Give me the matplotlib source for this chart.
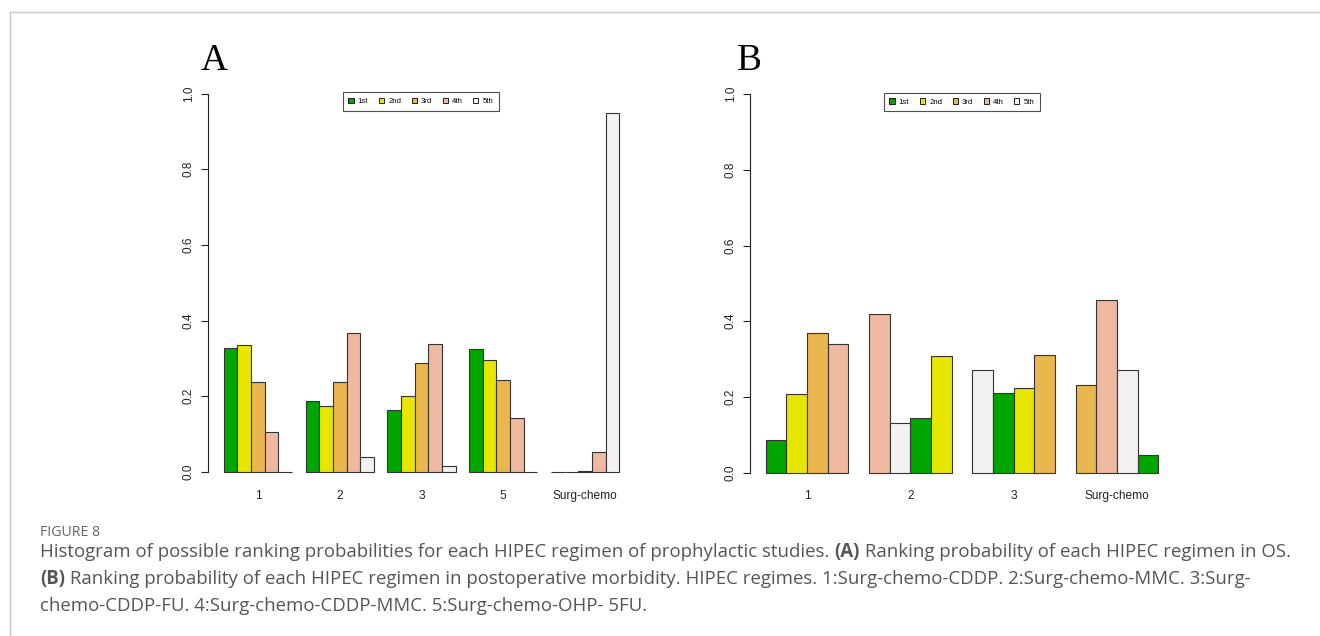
import matplotlib
matplotlib.use("Agg")
import matplotlib.pyplot as plt
from matplotlib.patches import Patch
from matplotlib.lines import Line2D

# ---------------- data ----------------
rank_labels = ["1st", "2nd", "3rd", "4th", "5th"]
rank_colors = ["#00A600", "#E6E600", "#EAB64E", "#EEB99F", "#F2F2F2"]

a_groups = ["1", "2", "3", "5", "Surg-chemo"]
a_values = [
    [0.328, 0.335, 0.237, 0.105, 0.000],
    [0.188, 0.174, 0.237, 0.366, 0.040],
    [0.164, 0.200, 0.289, 0.338, 0.016],
    [0.324, 0.295, 0.242, 0.143, 0.000],
    [0.000, 0.000, 0.001, 0.053, 0.949],
]
a_ranks = [[0, 1, 2, 3, 4]] * 5

b_groups = ["1", "2", "3", "Surg-chemo"]
b_values = [
    [0.086, 0.207, 0.369, 0.339],
    [0.419, 0.130, 0.144, 0.309],
    [0.270, 0.210, 0.223, 0.311],
    [0.231, 0.457, 0.271, 0.046],
]
b_ranks = [
    [0, 1, 2, 3],
    [3, 4, 0, 1],
    [4, 0, 1, 2],
    [2, 3, 4, 0],
]

y_ticks = [0.0, 0.2, 0.4, 0.6, 0.8, 1.0]
y_ticklabels = ["0.0", "0.2", "0.4", "0.6", "0.8", "1.0"]

caption_title = "FIGURE 8"
caption_lines = [
    [("Histogram of possible ranking probabilities for each HIPEC regimen of prophylactic studies. ", False),
     ("(A)", True), (" Ranking probability of each HIPEC regimen in OS.", False)],
    [("(B)", True), (" Ranking probability of each HIPEC regimen in postoperative morbidity. HIPEC regimes. "
                     "1:Surg-chemo-CDDP. 2:Surg-chemo-MMC. 3:Surg-", False)],
    [("chemo-CDDP-FU. 4:Surg-chemo-CDDP-MMC. 5:Surg-chemo-OHP- 5FU.", False)],
]

# ---------------- figure ----------------
W, H = 1320, 636
DPI = 100
fig = plt.figure(figsize=(W / DPI, H / DPI), dpi=DPI)
fig.patch.set_facecolor("white")

chart_font = "Liberation Sans"


def px_axes(x0, x1, ytop, ybot):
    return fig.add_axes([x0 / W, 1 - ybot / H, (x1 - x0) / W, (ybot - ytop) / H])


def draw_panel(ax, groups, values, ranks, letter, letter_xy, legend_xy):
    nb = len(values[0])
    centers = []
    for g, (vals, rk) in enumerate(zip(values, ranks)):
        lefts = [1 + g * (nb + 1) + k for k in range(nb)]
        ax.bar(lefts, vals, width=1.0, align="edge",
               color=[rank_colors[r] for r in rk],
               edgecolor="#333333", linewidth=0.8)
        centers.append(lefts[0] + nb / 2.0)
    total = len(values) * (nb + 1)
    span = total - 1
    ax.set_xlim(1 - 0.04 * span, total + 0.04 * span)
    ax.set_ylim(-0.04, 1.04)
    for s in ["top", "right", "bottom"]:
        ax.spines[s].set_visible(False)
    ax.spines["left"].set_bounds(0, 1)
    ax.spines["left"].set_linewidth(0.8)
    ax.spines["left"].set_color("#222222")
    ax.set_yticks(y_ticks)
    ax.set_yticklabels(y_ticklabels, rotation=90, va="center",
                       fontsize=8.5, family=chart_font, color="#222222")
    ax.tick_params(axis="y", length=5, width=0.8, pad=4.5, color="#222222")
    ax.set_xticks(centers)
    ax.set_xticklabels(groups, fontsize=8.6, family=chart_font, color="#222222")
    ax.tick_params(axis="x", length=0, pad=2)
    ax.set_facecolor("none")

    fig.text(letter_xy[0] / W, 1 - letter_xy[1] / H, letter,
             family="Liberation Serif", fontsize=27, ha="left", va="baseline",
             color="black")

    handles = [Patch(facecolor=c, edgecolor="black", linewidth=0.6) for c in rank_colors]
    leg = fig.legend(handles, rank_labels, loc="center",
                     bbox_to_anchor=(legend_xy[0] / W, 1 - legend_xy[1] / H),
                     ncol=5, prop={"family": chart_font, "size": 5.6},
                     handlelength=0.65, handleheight=0.65, handletextpad=0.55,
                     columnspacing=1.35, borderpad=0.75, frameon=True,
                     fancybox=False, borderaxespad=0)
    leg.get_frame().set_edgecolor("#222222")
    leg.get_frame().set_linewidth(0.8)


axA = px_axes(208, 635, 78.4, 487)
draw_panel(axA, a_groups, a_values, a_ranks, "A", (201, 70.5), (421, 101.7))

axB = px_axes(750, 1174, 79, 487.7)
draw_panel(axB, b_groups, b_values, b_ranks, "B", (737, 70.5), (962, 102))

# border lines
fig.add_artist(Line2D([9.5 / W, 1.0], [1 - 11.5 / H, 1 - 11.5 / H],
                      transform=fig.transFigure, color="#c8c8c8", linewidth=1.0))
fig.add_artist(Line2D([9.5 / W, 9.5 / W], [1 - 11.5 / H, 0.0],
                      transform=fig.transFigure, color="#c8c8c8", linewidth=1.0))

# caption
cap_font = "Open Sans"
cap_color = "#555555"
fig.text(40 / W, 1 - 536 / H, caption_title, family=cap_font, fontsize=10.2,
         color="#666666", ha="left", va="baseline")

renderer = fig.canvas.get_renderer()
baselines = [557, 584, 611]
for line, yb in zip(caption_lines, baselines):
    x = 40.0
    for txt, bold in line:
        t = fig.text(x / W, 1 - yb / H, txt, family=cap_font, fontsize=13.4,
                     fontweight="bold" if bold else "normal",
                     color=cap_color, ha="left", va="baseline")
        bb = t.get_window_extent(renderer=renderer)
        x += bb.width

fig.savefig("out.png", dpi=DPI, facecolor="white")
